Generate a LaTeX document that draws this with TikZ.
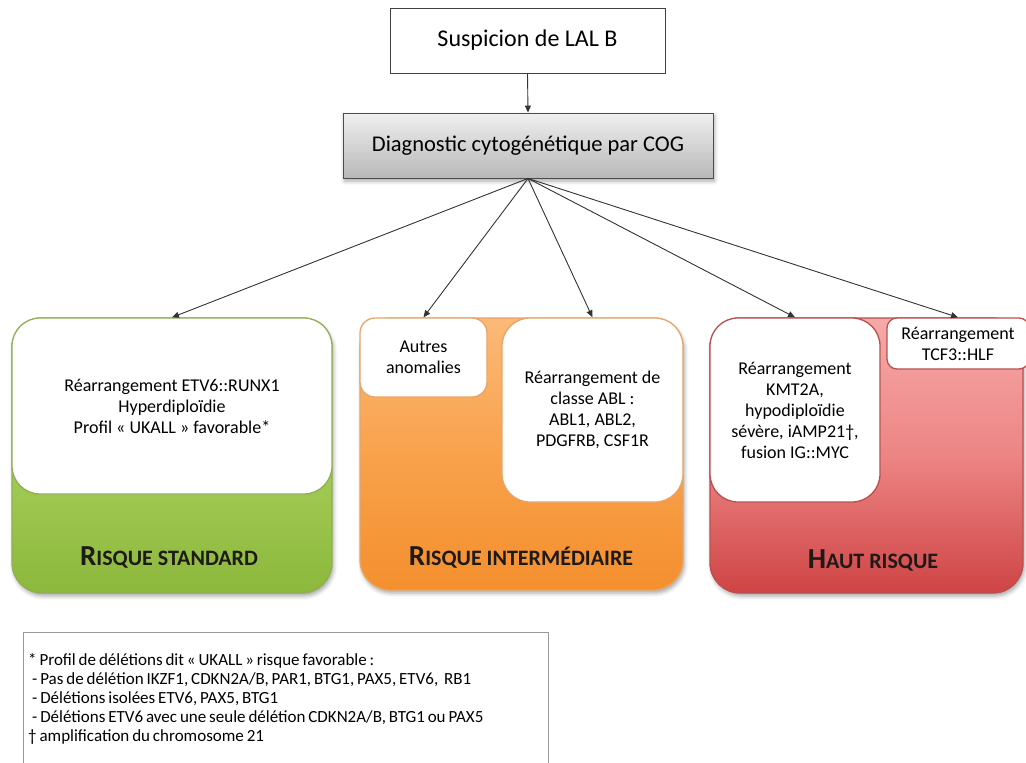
\documentclass[tikz,border=0pt]{standalone}
\usepackage{fontspec}
\setmainfont{Carlito}
\usetikzlibrary{arrows.meta,shadows.blur}

\definecolor{grnline}{HTML}{8FAE55}
\definecolor{grntop}{HTML}{C4DF8C}
\definecolor{grnmid}{HTML}{A5CD58}
\definecolor{grnbot}{HTML}{8CB83C}
\definecolor{orgline}{HTML}{E9A466}
\definecolor{orgtop}{HTML}{FBB978}
\definecolor{orgmid}{HTML}{F8A24C}
\definecolor{orgbot}{HTML}{F48F2E}
\definecolor{redline}{HTML}{B9504D}
\definecolor{redtop}{HTML}{F6A9A8}
\definecolor{redmid}{HTML}{EC8584}
\definecolor{redbot}{HTML}{CF4445}
\definecolor{labeltext}{HTML}{1E1A18}

% footnote font with tight word spacing
\newcommand{\notefont}{\fontsize{17}{19}\selectfont
  \spaceskip=0.17em plus 0.05em\relax}

\tikzset{
  x=1pt, y=-1pt,
  softshadow/.style={blur shadow={shadow xshift=1.5pt, shadow yshift=-3pt,
      shadow blur radius=4pt, shadow opacity=35}},
  topbox/.style={draw=black!75, line width=0.9pt, fill=white,
      minimum width=275pt, minimum height=65pt, inner sep=0pt,
      font=\fontsize{24}{28}\selectfont},
  diagbox/.style={draw=black!70, line width=0.9pt, top color=black!6,
      bottom color=black!28, minimum width=370pt, minimum height=65pt,
      inner sep=0pt, softshadow, font=\fontsize{22.5}{26}\selectfont},
  riskbox/.style={line width=1.3pt, rounded corners=30pt, inner sep=0pt,
      softshadow},
  whitebox/.style={fill=white, line width=1.3pt, inner sep=2pt,
      align=center, font=\fontsize{18}{21}\selectfont},
  risklabel/.style={font=\bfseries, text=labeltext, inner sep=0pt},
  notebox/.style={draw=black!40, line width=0.9pt, fill=white,
      minimum width=525pt, minimum height=160pt, inner sep=0pt},
  notetext/.style={align=left, inner sep=0pt, font=\notefont},
  link/.style={draw=black!80, line width=0.9pt,
      -{Triangle[length=7pt,width=6pt]}}
}

\newcommand{\bigsc}[2]{{\fontsize{29}{29}\selectfont #1}{\fontsize{22}{22}\selectfont #2}}

\begin{document}
\begin{tikzpicture}
\useasboundingbox (0,0) rectangle (1026,763);
\clip (0,0) rectangle (1026,763);

% header boxes
\node[topbox] (susp) at (527.5,40.5) {Suspicion de LAL B};
\node[diagbox] (diag) at (528,145.5) {Diagnostic cytogénétique par COG};

% standard risk group
\node[riskbox, draw=grnline, top color=grntop, bottom color=grnbot,
      middle color=grnmid, minimum width=320pt, minimum height=275pt]
      (std) at (172,455.5) {};
\node[whitebox, draw=grnline, rounded corners=28pt,
      minimum width=320pt, minimum height=176pt] (stdin) at (172,406)
  {\fontsize{18}{18.5}\selectfont Réarrangement ETV6::RUNX1\\Hyperdiploïdie\\Profil « UKALL » favorable*};
\node[risklabel] (stdlab) at (169,557) {\bigsc{R}{ISQUE STANDARD}};

% intermediate risk group
\node[riskbox, draw=orgline, top color=orgtop, bottom color=orgbot,
      middle color=orgmid, minimum width=323pt, minimum height=272pt]
      (inter) at (521.5,454) {};
\node[whitebox, draw=orgline, rounded corners=15pt,
      minimum width=127pt, minimum height=79pt] (autres) at (423.5,357.5)
  {Autres\\anomalies};
\node[whitebox, draw=orgline, rounded corners=28pt,
      minimum width=181pt, minimum height=184pt] (abl) at (592.5,410)
  {Réarrangement de\\classe ABL :\\ABL1, ABL2,\\PDGFRB, CSF1R};
\node[risklabel] (intlab) at (521,557) {\bigsc{R}{ISQUE INTERMÉDIAIRE}};

% high risk group
\node[riskbox, draw=redline, top color=redtop, bottom color=redbot,
      middle color=redmid, minimum width=313pt, minimum height=275pt]
      (haut) at (866.5,455.5) {};
\node[whitebox, draw=redline, rounded corners=28pt,
      minimum width=170pt, minimum height=184pt] (kmt) at (795,410)
  {\fontsize{18}{22}\selectfont Réarrangement\\KMT2A,\\hypodiploïdie\\sévère, iAMP21†,\\fusion IG::MYC};
\node[whitebox, draw=redline, rounded corners=10pt,
      minimum width=142pt, minimum height=51pt] (tcf) at (958,343.5)
  {\fontsize{18}{20}\selectfont Réarrangement\\TCF3::HLF};
\node[risklabel] (hautlab) at (873,560) {\bigsc{H}{AUT RISQUE}};

% connectors
\draw[link] (susp.south) -- (diag.north);
\draw[link] (diag.south) -- (stdin.north);
\draw[link] (diag.south) -- (autres.north);
\draw[link] (diag.south) -- (abl.north);
\draw[link] (diag.south) -- (kmt.north);
\draw[link] (diag.south) -- (tcf.north);

% footnote
\node[notebox, anchor=north west] (note) at (23,632) {};
\node[notetext, anchor=north west] (notetxt) at ([xshift=5pt,yshift=-21pt]note.north west)
  {* Profil de délétions dit « UKALL » risque favorable :\\
   \hspace*{4pt}- Pas de délétion IKZF1, CDKN2A/B, PAR1, BTG1, PAX5, ETV6,\ \ RB1\\
   \hspace*{4pt}- Délétions isolées ETV6, PAX5, BTG1\\
   \hspace*{4pt}- Délétions ETV6 avec une seule délétion CDKN2A/B, BTG1 ou PAX5\\
   † amplification du chromosome 21};
\end{tikzpicture}
\end{document}
